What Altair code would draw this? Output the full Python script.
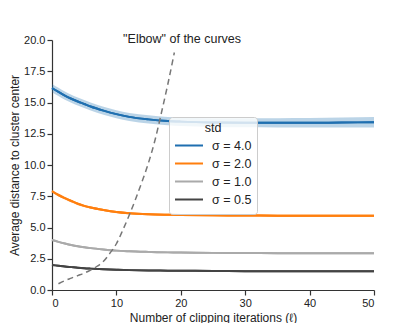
import altair as alt
import pandas as pd

# ---- data ----
iters = [0, 1, 2, 3, 4, 5, 6, 8, 10, 12, 15, 18, 20, 25, 30, 35, 40, 45, 50]

s40_mean = [16.15, 15.85, 15.55, 15.30, 15.08, 14.88, 14.68, 14.35, 14.07, 13.85, 13.65, 13.52, 13.47, 13.40, 13.38, 13.38, 13.38, 13.40, 13.42]
s40_err  = [0.33, 0.33, 0.33, 0.32, 0.32, 0.32, 0.32, 0.32, 0.32, 0.32, 0.33, 0.33, 0.34, 0.35, 0.36, 0.37, 0.38, 0.40, 0.42]

s20_mean = [7.90, 7.60, 7.35, 7.12, 6.90, 6.73, 6.60, 6.40, 6.24, 6.14, 6.06, 6.02, 6.00, 5.97, 5.96, 5.95, 5.95, 5.95, 5.95]
s20_err  = [0.13, 0.12, 0.12, 0.11, 0.11, 0.10, 0.10, 0.09, 0.09, 0.08, 0.08, 0.08, 0.08, 0.08, 0.08, 0.08, 0.08, 0.08, 0.08]

s10_mean = [4.00, 3.85, 3.72, 3.60, 3.50, 3.42, 3.35, 3.24, 3.15, 3.10, 3.05, 3.01, 3.00, 2.97, 2.96, 2.95, 2.95, 2.95, 2.95]
s10_err  = [0.05, 0.05, 0.05, 0.05, 0.04, 0.04, 0.04, 0.04, 0.04, 0.04, 0.04, 0.04, 0.04, 0.04, 0.04, 0.04, 0.04, 0.04, 0.04]

s05_mean = [2.00, 1.94, 1.88, 1.83, 1.78, 1.74, 1.71, 1.66, 1.62, 1.59, 1.56, 1.55, 1.54, 1.52, 1.51, 1.50, 1.50, 1.50, 1.50]
s05_err  = [0.03, 0.03, 0.03, 0.03, 0.03, 0.03, 0.03, 0.03, 0.03, 0.03, 0.03, 0.03, 0.03, 0.03, 0.03, 0.03, 0.03, 0.03, 0.03]

series_names = ["σ = 4.0", "σ = 2.0", "σ = 1.0", "σ = 0.5"]
series_colors = ["#1f6fb0", "#ff7f0e", "#aaaaaa", "#444444"]

elbow_x = [1, 2, 3, 4, 5, 6, 7, 8, 9, 10, 11, 12, 13, 14, 15, 16, 17, 18, 19]
elbow_y = [0.5, 0.75, 0.95, 1.15, 1.35, 1.6, 1.9, 2.3, 2.95, 3.7, 4.8, 6.0, 7.3, 8.7, 10.2, 12.0, 14.2, 16.5, 19.0]

annot_text = ['"Elbow" of the curves']
annot_x = [20.2]
annot_y = [19.5]

x_ticks = [0, 10, 20, 30, 40, 50]
y_ticks = [0.0, 2.5, 5.0, 7.5, 10.0, 12.5, 15.0, 17.5, 20.0]

x_title = "Number of clipping iterations (ℓ)"
y_title = "Average distance to cluster center"

# ---- build tables ----
rows = []
for name, means, errs in zip(series_names,
                             [s40_mean, s20_mean, s10_mean, s05_mean],
                             [s40_err, s20_err, s10_err, s05_err]):
    for xv, m, e in zip(iters, means, errs):
        rows.append({"x": xv, "mean": m, "lo": m - e, "hi": m + e, "std": name})
df = pd.DataFrame(rows)
elbow = pd.DataFrame({"x": elbow_x, "y": elbow_y})
annot = pd.DataFrame({"x": annot_x, "y": annot_y, "t": annot_text})

font = "Liberation Sans"

xs = alt.Scale(domain=[0, 50], nice=False)
ys = alt.Scale(domain=[0, 20], nice=False)
cs = alt.Scale(domain=series_names, range=series_colors)

x_axis = alt.Axis(title=x_title, values=x_ticks, format="d")
y_axis = alt.Axis(title=y_title, values=y_ticks, format=".1f", labelOverlap=False)

legend = alt.Legend(title="std", orient="none", legendX=117, legendY=77,
                    fillColor="rgba(255,255,255,0.8)", strokeColor="#cccccc",
                    cornerRadius=3, padding=5, titleAnchor="middle", titlePadding=2,
                    titleFontSize=12.5, titleFontWeight="normal", titleColor="#222222",
                    titleFont=font, labelFont=font, labelFontSize=12.5,
                    labelColor="#222222", symbolType="stroke", symbolSize=784,
                    symbolStrokeWidth=2, labelOffset=8, rowPadding=0, clipHeight=18)

# base line layer carries the legend
lines_base = alt.Chart(df).mark_line(strokeWidth=2, interpolate="monotone").encode(
    x=alt.X("x:Q", scale=xs, axis=x_axis),
    y=alt.Y("mean:Q", scale=ys, axis=y_axis),
    color=alt.Color("std:N", scale=cs, sort=series_names, legend=legend),
)

band = alt.Chart(df).mark_area(opacity=0.3, interpolate="monotone").encode(
    x=alt.X("x:Q", scale=xs, axis=x_axis),
    y=alt.Y("lo:Q", scale=ys, axis=y_axis),
    y2="hi:Q",
    fill=alt.Fill("std:N", scale=cs, legend=None),
)

lines_top = alt.Chart(df).mark_line(strokeWidth=2, interpolate="monotone").encode(
    x=alt.X("x:Q", scale=xs, axis=x_axis),
    y=alt.Y("mean:Q", scale=ys, axis=y_axis),
    stroke=alt.Stroke("std:N", scale=cs, legend=None),
)

dash = alt.Chart(elbow).mark_line(strokeDash=[6, 4], color="#777777", strokeWidth=1.5,
                                  interpolate="monotone").encode(
    x=alt.X("x:Q", scale=xs, axis=x_axis), y=alt.Y("y:Q", scale=ys, axis=y_axis))

txt = alt.Chart(annot).mark_text(font=font, fontSize=12.5, color="#222222", baseline="bottom",
                                 align="center").encode(
    x=alt.X("x:Q", scale=xs, axis=x_axis), y=alt.Y("y:Q", scale=ys, axis=y_axis), text="t:N")

chart = alt.layer(lines_base, band, lines_top, dash, txt).properties(
    width=322, height=250,
    padding={"left": 0, "top": 25, "right": 5, "bottom": 0},
).configure_view(stroke=None).configure_axis(
    grid=False, domainColor="#333333", tickColor="#333333", domainWidth=1.2, tickWidth=1.2,
    tickSize=5, labelFont=font, titleFont=font, labelFontSize=11, titleFontSize=12,
    labelColor="#222222", titleColor="#222222", titleFontWeight="normal", labelPadding=2,
).configure_axisY(titlePadding=2).configure_axisX(titlePadding=4)

chart.save("out.html", embed_options={"renderer": "svg", "actions": False})
